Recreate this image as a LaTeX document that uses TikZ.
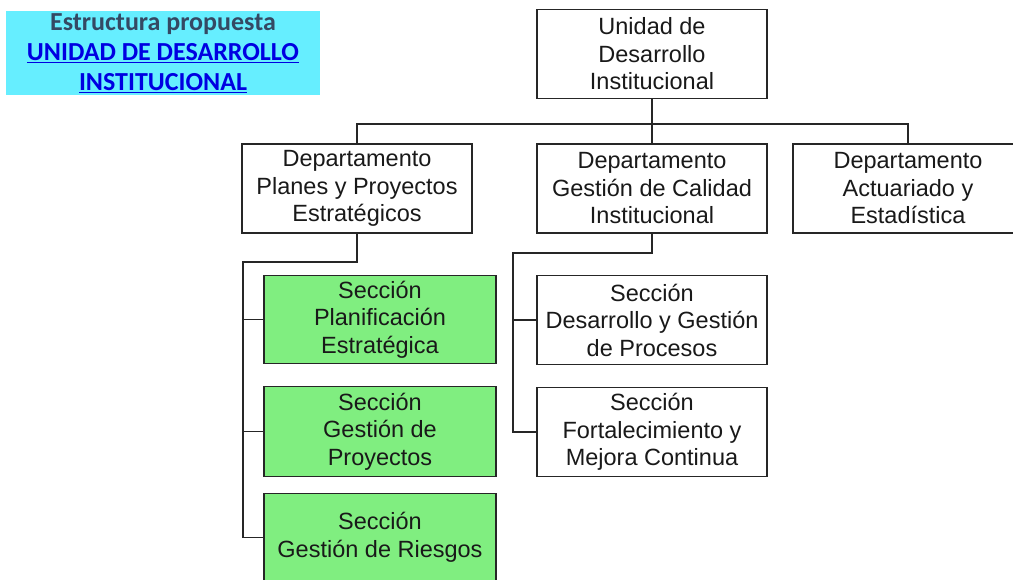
\documentclass[tikz,border=0pt]{standalone}
\usepackage{fontspec}
\setmainfont{Liberation Sans}
\newfontfamily\titlefont{Carlito}
\definecolor{cyanbg}{RGB}{102,238,255}
\definecolor{greenbg}{RGB}{128,238,128}
\definecolor{titlegray}{RGB}{52,73,100}
\definecolor{linkblue}{RGB}{0,0,225}
\begin{document}
\begin{tikzpicture}[x=1pt,y=-1pt,
  orgbox/.style={draw=black!85,line width=1.2pt,fill=white,rectangle,inner sep=0pt,
     minimum width=230pt,minimum height=89pt,align=center,
     font=\fontsize{23.5}{27.5}\selectfont,text=black!90},
  greenbox/.style={orgbox,fill=greenbg,minimum width=232pt},
  conn/.style={draw=black!85,line width=1.5pt}]
\useasboundingbox (0,0) rectangle (1013,580);
\clip (0,0) rectangle (1013,580);
% title
\node[fill=cyanbg,minimum width=314pt,minimum height=84pt,inner sep=0pt,align=center,
  font=\titlefont\bfseries\fontsize{26}{30}\selectfont] (title) at (163,53.5)
  {\textcolor{titlegray}{Estructura propuesta}\\
   \textcolor{linkblue}{\underline{UNIDAD DE DESARROLLO}}\\
   \textcolor{linkblue}{\underline{INSTITUCIONAL}}};
% boxes
\node[orgbox] (top) at (652,54) {Unidad de\\Desarrollo\\Institucional};
\node[orgbox] (dL) at (357,188.5) {Departamento\\Planes y Proyectos\\Estratégicos};
\node[orgbox] (dM) at (652,188.5) {Departamento\\Gestión de Calidad\\Institucional};
\node[orgbox] (dR) at (908,188.5) {Departamento\\Actuariado y\\Estadística};
\node[greenbox,minimum height=88pt] (g1) at (380,319.5) {Sección\\Planificación\\Estratégica};
\node[greenbox,minimum height=90pt] (g2) at (380,431.5) {Sección\\Gestión de\\Proyectos};
\node[greenbox,minimum height=88pt] (g3) at (380,537.5) {Sección\\Gestión de Riesgos};
\node[orgbox] (m1) at (652,320) {Sección\\Desarrollo y Gestión\\de Procesos};
\node[orgbox] (m2) at (652,432) {Sección\\Fortalecimiento y\\Mejora Continua};
% connectors
\coordinate (bus) at (652,124);
\draw[conn] (top.south) -- (dM.north);
\draw[conn] (dL.north) -- (dL.north |- bus) -- (dR.north |- bus) -- (dR.north);
\coordinate (lt) at (243,262);
\draw[conn] (dL.south) |- (lt) -- (lt |- g3.west) -- (g3.west);
\draw[conn] (lt |- g1.west) -- (g1.west);
\draw[conn] (lt |- g2.west) -- (g2.west);
\coordinate (mt) at (513,253);
\draw[conn] (dM.south) |- (mt) -- (mt |- m2.west) -- (m2.west);
\draw[conn] (mt |- m1.west) -- (m1.west);
\end{tikzpicture}
\end{document}
